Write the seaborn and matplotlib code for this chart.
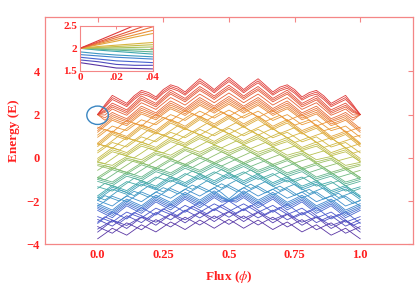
import numpy as np
import pandas as pd
import matplotlib
matplotlib.use('Agg')
import matplotlib.pyplot as plt
import seaborn as sns
from matplotlib.patches import Ellipse

# flux grid (values read every 1/36)
flux = [0.0, 0.028, 0.056, 0.083, 0.111, 0.139, 0.167, 0.194, 0.222, 0.25, 0.278, 0.306,
        0.333, 0.361, 0.389, 0.417, 0.444, 0.472, 0.5, 0.528, 0.556, 0.583, 0.611, 0.639,
        0.667, 0.694, 0.722, 0.75, 0.778, 0.806, 0.833, 0.861, 0.889, 0.917, 0.944, 0.972, 1.0]

# energy levels read along the flux grid
e00 = [-3.75, -3.51, -3.26, -3.42, -3.58, -3.34, -3.10, -3.26, -3.43, -3.20, -2.97, -3.14, -3.32, -3.10, -2.88, -3.07, -3.26, -3.05, -2.85, -3.05, -3.26, -3.07, -2.88, -3.10, -3.32, -3.14, -2.97, -3.20, -3.43, -3.26, -3.10, -3.34, -3.58, -3.42, -3.26, -3.51, -3.75]
e01 = [-3.18, -3.34, -3.49, -3.25, -3.01, -3.17, -3.33, -3.09, -2.86, -3.03, -3.20, -2.97, -2.75, -2.93, -3.11, -2.90, -2.69, -2.88, -3.08, -2.88, -2.69, -2.90, -3.11, -2.93, -2.75, -2.97, -3.20, -3.03, -2.86, -3.09, -3.33, -3.17, -3.01, -3.25, -3.49, -3.34, -3.18]
e02 = [-3.44, -3.18, -2.91, -3.09, -3.27, -3.01, -2.75, -2.93, -3.12, -2.87, -2.62, -2.81, -3.01, -2.77, -2.53, -2.74, -2.95, -2.72, -2.50, -2.72, -2.95, -2.74, -2.53, -2.77, -3.01, -2.81, -2.62, -2.87, -3.12, -2.93, -2.75, -3.01, -3.27, -3.09, -2.91, -3.18, -3.44]
f02 = [-3.30, -3.10, -2.89, -3.01, -3.13, -2.93, -2.73, -2.85, -2.98, -2.79, -2.60, -2.73, -2.87, -2.69, -2.51, -2.66, -2.81, -2.64, -2.48, -2.64, -2.81, -2.66, -2.51, -2.69, -2.87, -2.73, -2.60, -2.79, -2.98, -2.85, -2.73, -2.93, -3.13, -3.01, -2.89, -3.10, -3.30]
e03 = [-2.85, -3.01, -3.16, -2.92, -2.68, -2.84, -3.00, -2.76, -2.53, -2.70, -2.87, -2.64, -2.42, -2.60, -2.78, -2.57, -2.36, -2.55, -2.75, -2.55, -2.36, -2.57, -2.78, -2.60, -2.42, -2.64, -2.87, -2.70, -2.53, -2.76, -3.00, -2.84, -2.68, -2.92, -3.16, -3.01, -2.85]
e04 = [-2.98, -2.73, -2.88, -3.02, -2.77, -2.53, -2.68, -2.84, -2.59, -2.36, -2.52, -2.69, -2.46, -2.24, -2.42, -2.60, -2.39, -2.18, -2.38, -2.58, -2.39, -2.20, -2.42, -2.64, -2.46, -2.29, -2.52, -2.76, -2.59, -2.44, -2.68, -2.93, -2.77, -2.62, -2.88, -3.13, -2.98]
f04 = [-2.72, -2.85, -2.98, -2.74, -2.51, -2.65, -2.78, -2.56, -2.33, -2.48, -2.62, -2.41, -2.20, -2.36, -2.52, -2.32, -2.13, -2.30, -2.48, -2.30, -2.13, -2.32, -2.52, -2.36, -2.20, -2.41, -2.62, -2.48, -2.33, -2.56, -2.78, -2.65, -2.51, -2.74, -2.98, -2.85, -2.72]
e05 = [-3.04, -2.77, -2.50, -2.66, -2.83, -2.57, -2.30, -2.48, -2.65, -2.40, -2.14, -2.33, -2.52, -2.28, -2.04, -2.24, -2.45, -2.22, -2.00, -2.22, -2.45, -2.24, -2.04, -2.28, -2.52, -2.33, -2.14, -2.40, -2.65, -2.48, -2.30, -2.57, -2.83, -2.66, -2.50, -2.77, -3.04]
e06 = [-2.43, -2.60, -2.77, -2.49, -2.22, -2.40, -2.57, -2.31, -2.04, -2.23, -2.41, -2.16, -1.91, -2.11, -2.31, -2.07, -1.84, -2.05, -2.00, -2.05, -1.84, -2.07, -2.31, -2.11, -1.91, -2.16, -2.41, -2.23, -2.04, -2.31, -2.57, -2.40, -2.22, -2.49, -2.77, -2.60, -2.43]
f06 = [-2.35, -2.51, -2.67, -2.40, -2.14, -2.31, -2.47, -2.22, -1.96, -2.14, -2.31, -2.07, -1.83, -2.02, -2.21, -1.98, -1.76, -1.96, -1.99, -1.96, -1.76, -1.98, -2.21, -2.02, -1.83, -2.07, -2.31, -2.14, -1.96, -2.22, -2.47, -2.31, -2.14, -2.40, -2.67, -2.51, -2.35]
e07 = [-2.28, -2.43, -2.58, -2.32, -2.07, -2.23, -2.38, -2.14, -1.89, -2.06, -2.22, -1.99, -1.76, -1.94, -2.12, -1.90, -1.69, -1.88, -1.98, -1.88, -1.69, -1.90, -2.12, -1.94, -1.76, -1.99, -2.22, -2.06, -1.89, -2.14, -2.38, -2.23, -2.07, -2.32, -2.58, -2.43, -2.28]
f07 = [-2.20, -2.35, -2.50, -2.24, -1.99, -2.15, -2.30, -2.06, -1.81, -1.98, -2.14, -1.91, -1.68, -1.86, -2.04, -1.82, -1.61, -1.84, -1.97, -1.84, -1.61, -1.82, -2.04, -1.86, -1.68, -1.91, -2.14, -1.98, -1.81, -2.06, -2.30, -2.15, -1.99, -2.24, -2.50, -2.35, -2.20]
e08 = [-2.12, -2.27, -2.42, -2.16, -1.91, -2.07, -2.22, -1.98, -1.73, -1.90, -2.06, -1.83, -1.60, -1.78, -1.96, -1.74, -1.53, -1.78, -1.96, -1.78, -1.53, -1.74, -1.96, -1.78, -1.60, -1.83, -2.06, -1.90, -1.73, -1.98, -2.22, -2.07, -1.91, -2.16, -2.42, -2.27, -2.12]
e09 = [-1.97, -2.10, -2.23, -1.99, -1.76, -1.90, -2.03, -1.81, -1.58, -1.73, -1.87, -1.66, -1.45, -1.61, -1.77, -1.57, -1.38, -1.62, -1.90, -1.62, -1.38, -1.57, -1.77, -1.61, -1.45, -1.66, -1.87, -1.73, -1.58, -1.81, -2.03, -1.90, -1.76, -1.99, -2.23, -2.10, -1.97]
f09 = [-2.24, -2.01, -1.78, -1.90, -2.03, -1.81, -1.58, -1.72, -1.85, -1.64, -1.42, -1.57, -1.72, -1.52, -1.32, -1.48, -1.65, -1.46, -1.28, -1.46, -1.65, -1.48, -1.32, -1.52, -1.72, -1.57, -1.42, -1.64, -1.85, -1.72, -1.58, -1.81, -2.03, -1.90, -1.78, -2.01, -2.24]
e10 = [-1.98, -1.75, -1.88, -2.00, -1.77, -1.55, -1.68, -1.82, -1.59, -1.38, -1.52, -1.67, -1.46, -1.26, -1.42, -1.58, -1.39, -1.20, -1.38, -1.56, -1.39, -1.22, -1.42, -1.62, -1.46, -1.31, -1.52, -1.74, -1.59, -1.46, -1.68, -1.91, -1.77, -1.64, -1.88, -2.11, -1.98]
e11 = [-1.82, -1.95, -1.72, -1.48, -1.61, -1.75, -1.52, -1.30, -1.43, -1.58, -1.36, -1.15, -1.30, -1.46, -1.26, -1.06, -1.23, -1.40, -1.22, -1.04, -1.23, -1.42, -1.26, -1.10, -1.30, -1.51, -1.36, -1.22, -1.43, -1.66, -1.52, -1.39, -1.61, -1.84, -1.72, -1.59, -1.82]
e12 = [-1.93, -1.69, -1.45, -1.57, -1.69, -1.45, -1.22, -1.35, -1.48, -1.25, -1.03, -1.18, -1.32, -1.12, -0.91, -1.07, -1.24, -1.05, -0.87, -1.05, -1.24, -1.07, -0.91, -1.12, -1.32, -1.18, -1.03, -1.25, -1.48, -1.35, -1.22, -1.45, -1.69, -1.57, -1.45, -1.69, -1.93]
f12 = [-1.84, -1.60, -1.36, -1.48, -1.60, -1.36, -1.13, -1.26, -1.39, -1.16, -0.94, -1.09, -1.23, -1.03, -0.82, -0.98, -1.15, -0.96, -0.78, -0.96, -1.15, -0.98, -0.82, -1.03, -1.23, -1.09, -0.94, -1.16, -1.39, -1.26, -1.13, -1.36, -1.60, -1.48, -1.36, -1.60, -1.84]
e13 = [-1.76, -1.52, -1.28, -1.40, -1.52, -1.28, -1.05, -1.18, -1.31, -1.08, -0.86, -1.01, -1.15, -0.95, -0.74, -0.90, -1.07, -0.88, -0.70, -0.88, -1.07, -0.90, -0.74, -0.95, -1.15, -1.01, -0.86, -1.08, -1.31, -1.18, -1.05, -1.28, -1.52, -1.40, -1.28, -1.52, -1.76]
f13 = [-1.34, -1.44, -1.54, -1.32, -1.10, -1.20, -1.31, -1.10, -0.89, -1.00, -1.12, -0.93, -0.73, -0.87, -1.00, -0.82, -0.65, -0.80, -0.96, -0.80, -0.65, -0.82, -1.00, -0.87, -0.73, -0.93, -1.12, -1.00, -0.89, -1.10, -1.31, -1.20, -1.10, -1.32, -1.54, -1.44, -1.34]
e14 = [-1.42, -1.18, -1.30, -1.42, -1.18, -0.94, -1.07, -1.20, -0.97, -0.74, -0.88, -1.03, -0.81, -0.61, -0.76, -0.92, -0.73, -0.54, -0.72, -0.90, -0.73, -0.56, -0.76, -0.97, -0.81, -0.67, -0.88, -1.10, -0.97, -0.84, -1.07, -1.30, -1.18, -1.06, -1.30, -1.54, -1.42]
e15 = [-1.09, -1.19, -1.29, -1.07, -0.85, -0.95, -1.06, -0.85, -0.64, -0.75, -0.87, -0.68, -0.48, -0.62, -0.75, -0.57, -0.40, -0.55, -0.71, -0.55, -0.40, -0.57, -0.75, -0.62, -0.48, -0.68, -0.87, -0.75, -0.64, -0.85, -1.06, -0.95, -0.85, -1.07, -1.29, -1.19, -1.09]
f15 = [-1.00, -1.10, -1.20, -0.98, -0.76, -0.86, -0.97, -0.76, -0.55, -0.66, -0.78, -0.59, -0.39, -0.53, -0.66, -0.48, -0.31, -0.46, -0.62, -0.46, -0.31, -0.48, -0.66, -0.53, -0.39, -0.59, -0.78, -0.66, -0.55, -0.76, -0.97, -0.86, -0.76, -0.98, -1.20, -1.10, -1.00]
e16 = [-0.92, -1.02, -1.12, -0.90, -0.68, -0.78, -0.89, -0.68, -0.47, -0.58, -0.70, -0.51, -0.31, -0.45, -0.58, -0.40, -0.23, -0.38, -0.54, -0.38, -0.23, -0.40, -0.58, -0.45, -0.31, -0.51, -0.70, -0.58, -0.47, -0.68, -0.89, -0.78, -0.68, -0.90, -1.12, -1.02, -0.92]
e17 = [-0.92, -1.02, -0.80, -0.58, -0.68, -0.78, -0.57, -0.36, -0.47, -0.58, -0.38, -0.19, -0.31, -0.45, -0.26, -0.08, -0.23, -0.38, -0.22, -0.06, -0.23, -0.40, -0.26, -0.13, -0.31, -0.51, -0.38, -0.26, -0.47, -0.68, -0.57, -0.46, -0.68, -0.90, -0.80, -0.70, -0.92]
f17 = [-0.99, -0.77, -0.55, -0.65, -0.75, -0.53, -0.32, -0.43, -0.54, -0.33, -0.13, -0.26, -0.38, -0.20, -0.01, -0.15, -0.30, -0.13, 0.03, -0.13, -0.30, -0.15, -0.01, -0.20, -0.38, -0.26, -0.13, -0.33, -0.54, -0.43, -0.32, -0.53, -0.75, -0.65, -0.55, -0.77, -0.99]
e18 = [-0.91, -0.69, -0.47, -0.57, -0.67, -0.45, -0.24, -0.35, -0.46, -0.25, -0.05, -0.18, -0.30, -0.12, 0.07, -0.07, -0.22, -0.05, 0.11, -0.05, -0.22, -0.07, 0.07, -0.12, -0.30, -0.18, -0.05, -0.25, -0.46, -0.35, -0.24, -0.45, -0.67, -0.57, -0.47, -0.69, -0.91]
e19 = [-0.58, -0.36, -0.46, -0.56, -0.34, -0.12, -0.23, -0.34, -0.13, 0.08, -0.04, -0.17, 0.03, 0.21, 0.08, -0.06, 0.11, 0.28, 0.12, -0.04, 0.11, 0.26, 0.08, -0.11, 0.03, 0.15, -0.04, -0.24, -0.13, -0.02, -0.23, -0.44, -0.34, -0.24, -0.46, -0.68, -0.58]
e20 = [-0.36, -0.45, -0.54, -0.31, -0.09, -0.18, -0.28, -0.06, 0.15, 0.05, -0.07, 0.14, 0.34, 0.21, 0.07, 0.25, 0.43, 0.28, 0.12, 0.28, 0.43, 0.25, 0.07, 0.21, 0.34, 0.14, -0.07, 0.05, 0.15, -0.06, -0.28, -0.18, -0.09, -0.31, -0.54, -0.45, -0.36]
f20 = [-0.29, -0.37, -0.45, -0.23, -0.02, -0.10, -0.19, 0.02, 0.22, 0.13, 0.02, 0.22, 0.41, 0.29, 0.16, 0.33, 0.50, 0.36, 0.21, 0.36, 0.50, 0.33, 0.16, 0.29, 0.41, 0.22, 0.02, 0.13, 0.22, 0.02, -0.19, -0.10, -0.02, -0.23, -0.45, -0.37, -0.29]
e21 = [-0.21, -0.28, -0.35, -0.14, 0.06, -0.01, -0.09, 0.11, 0.30, 0.22, 0.12, 0.31, 0.49, 0.38, 0.26, 0.42, 0.58, 0.45, 0.31, 0.45, 0.58, 0.42, 0.26, 0.38, 0.49, 0.31, 0.12, 0.22, 0.30, 0.11, -0.09, -0.01, 0.06, -0.14, -0.35, -0.28, -0.21]
e22 = [-0.18, -0.27, -0.04, 0.19, 0.09, 0.00, 0.22, 0.44, 0.33, 0.23, 0.43, 0.64, 0.52, 0.39, 0.57, 0.75, 0.61, 0.46, 0.62, 0.78, 0.61, 0.43, 0.57, 0.71, 0.52, 0.32, 0.43, 0.55, 0.33, 0.12, 0.22, 0.32, 0.09, -0.13, -0.04, 0.05, -0.18]
e23 = [-0.18, 0.05, 0.28, 0.19, 0.09, 0.32, 0.54, 0.44, 0.33, 0.55, 0.75, 0.64, 0.52, 0.71, 0.89, 0.75, 0.61, 0.78, 0.94, 0.78, 0.61, 0.75, 0.89, 0.71, 0.52, 0.64, 0.75, 0.55, 0.33, 0.44, 0.54, 0.32, 0.09, 0.19, 0.28, 0.05, -0.18]
f23 = [-0.11, 0.13, 0.37, 0.27, 0.16, 0.40, 0.63, 0.52, 0.40, 0.63, 0.84, 0.72, 0.59, 0.79, 0.98, 0.83, 0.68, 0.86, 1.03, 0.86, 0.68, 0.83, 0.98, 0.79, 0.59, 0.72, 0.84, 0.63, 0.40, 0.52, 0.63, 0.40, 0.16, 0.27, 0.37, 0.13, -0.11]
e24 = [-0.03, 0.22, 0.47, 0.36, 0.24, 0.49, 0.73, 0.61, 0.48, 0.72, 0.94, 0.81, 0.67, 0.88, 1.08, 0.92, 0.76, 0.95, 1.13, 0.95, 0.76, 0.92, 1.08, 0.88, 0.67, 0.81, 0.94, 0.72, 0.48, 0.61, 0.73, 0.49, 0.24, 0.36, 0.47, 0.22, -0.03]
e25 = [0.32, 0.57, 0.46, 0.35, 0.59, 0.84, 0.72, 0.60, 0.83, 1.07, 0.93, 0.80, 1.02, 1.23, 1.07, 0.91, 1.11, 1.30, 1.12, 0.94, 1.11, 1.27, 1.07, 0.87, 1.02, 1.16, 0.93, 0.71, 0.83, 0.96, 0.72, 0.48, 0.59, 0.71, 0.46, 0.21, 0.32]
f25 = [0.23, 0.47, 0.71, 0.61, 0.50, 0.74, 0.97, 0.86, 0.74, 0.97, 1.18, 1.06, 0.93, 1.13, 1.32, 1.17, 1.02, 1.20, 1.37, 1.20, 1.02, 1.17, 1.32, 1.13, 0.93, 1.06, 1.18, 0.97, 0.74, 0.86, 0.97, 0.74, 0.50, 0.61, 0.71, 0.47, 0.23]
e26 = [0.66, 0.55, 0.44, 0.69, 0.93, 0.82, 0.70, 0.94, 1.17, 1.05, 0.91, 1.14, 1.36, 1.21, 1.05, 1.25, 1.45, 1.28, 1.10, 1.28, 1.45, 1.25, 1.05, 1.21, 1.36, 1.14, 0.91, 1.05, 1.17, 0.94, 0.70, 0.82, 0.93, 0.69, 0.44, 0.55, 0.66]
e27 = [0.65, 0.54, 0.79, 1.04, 0.92, 0.81, 1.05, 1.29, 1.16, 1.04, 1.26, 1.49, 1.35, 1.20, 1.40, 1.60, 1.44, 1.27, 1.45, 1.63, 1.44, 1.24, 1.40, 1.56, 1.35, 1.13, 1.26, 1.40, 1.16, 0.93, 1.05, 1.17, 0.92, 0.68, 0.79, 0.90, 0.65]
e28 = [0.52, 0.80, 1.08, 0.95, 0.83, 1.10, 1.37, 1.24, 1.10, 1.36, 1.61, 1.46, 1.30, 1.54, 1.77, 1.59, 1.41, 1.62, 1.82, 1.62, 1.41, 1.59, 1.77, 1.54, 1.30, 1.46, 1.61, 1.36, 1.10, 1.24, 1.37, 1.10, 0.83, 0.95, 1.08, 0.80, 0.52]
f28 = [0.60, 0.88, 1.16, 1.03, 0.91, 1.18, 1.45, 1.32, 1.18, 1.44, 1.69, 1.54, 1.38, 1.62, 1.85, 1.67, 1.49, 1.70, 1.90, 1.70, 1.49, 1.67, 1.85, 1.62, 1.38, 1.54, 1.69, 1.44, 1.18, 1.32, 1.45, 1.18, 0.91, 1.03, 1.16, 0.88, 0.60]
e29 = [0.68, 0.96, 1.24, 1.11, 0.99, 1.26, 1.53, 1.40, 1.26, 1.52, 1.77, 1.62, 1.46, 1.70, 1.93, 1.75, 1.57, 1.78, 1.98, 1.78, 1.57, 1.75, 1.93, 1.70, 1.46, 1.62, 1.77, 1.52, 1.26, 1.40, 1.53, 1.26, 0.99, 1.11, 1.24, 0.96, 0.68]
e30 = [1.05, 1.31, 1.21, 1.10, 1.36, 1.61, 1.50, 1.39, 1.63, 1.87, 1.74, 1.61, 1.83, 2.05, 1.90, 1.74, 1.94, 2.13, 1.95, 1.77, 1.94, 2.10, 1.90, 1.69, 1.83, 1.97, 1.74, 1.51, 1.63, 1.75, 1.50, 1.25, 1.36, 1.46, 1.21, 0.95, 1.05]
f30 = [0.95, 1.21, 1.47, 1.36, 1.26, 1.51, 1.76, 1.65, 1.53, 1.77, 2.00, 1.87, 1.73, 1.95, 2.16, 2.00, 1.84, 2.03, 2.21, 2.03, 1.84, 2.00, 2.16, 1.95, 1.73, 1.87, 2.00, 1.77, 1.53, 1.65, 1.76, 1.51, 1.26, 1.36, 1.47, 1.21, 0.95]
e31 = [1.42, 1.30, 1.18, 1.45, 1.73, 1.60, 1.47, 1.74, 2.00, 1.86, 1.71, 1.96, 2.20, 2.04, 1.87, 2.09, 2.31, 2.12, 1.92, 2.12, 2.31, 2.09, 1.87, 2.04, 2.20, 1.96, 1.71, 1.86, 2.00, 1.74, 1.47, 1.60, 1.73, 1.45, 1.18, 1.30, 1.42]
e32 = [1.18, 1.46, 1.74, 1.61, 1.49, 1.76, 2.03, 1.90, 1.76, 2.02, 2.27, 2.12, 1.96, 2.20, 2.43, 2.25, 2.07, 2.28, 2.48, 2.28, 2.07, 2.25, 2.43, 2.20, 1.96, 2.12, 2.27, 2.02, 1.76, 1.90, 2.03, 1.76, 1.49, 1.61, 1.74, 1.46, 1.18]
f32 = [1.26, 1.54, 1.82, 1.69, 1.57, 1.84, 2.11, 1.98, 1.84, 2.10, 2.35, 2.20, 2.04, 2.28, 2.51, 2.33, 2.15, 2.36, 2.56, 2.36, 2.15, 2.33, 2.51, 2.28, 2.04, 2.20, 2.35, 2.10, 1.84, 1.98, 2.11, 1.84, 1.57, 1.69, 1.82, 1.54, 1.26]
e33 = [1.35, 1.63, 1.91, 1.78, 1.66, 1.93, 2.20, 2.07, 1.93, 2.19, 2.44, 2.29, 2.13, 2.37, 2.60, 2.42, 2.24, 2.45, 2.65, 2.45, 2.24, 2.42, 2.60, 2.37, 2.13, 2.29, 2.44, 2.19, 1.93, 2.07, 2.20, 1.93, 1.66, 1.78, 1.91, 1.63, 1.35]
f33 = [2.00, 1.74, 2.00, 1.86, 1.73, 2.01, 2.29, 2.15, 2.00, 2.27, 2.53, 2.37, 2.20, 2.45, 2.69, 2.50, 2.31, 2.53, 2.74, 2.53, 2.31, 2.50, 2.69, 2.45, 2.20, 2.37, 2.53, 2.27, 2.00, 2.15, 2.29, 2.01, 1.73, 1.86, 2.00, 1.74, 2.00]
e34 = [2.00, 1.85, 2.10, 1.95, 1.81, 2.10, 2.39, 2.24, 2.08, 2.36, 2.63, 2.46, 2.28, 2.54, 2.79, 2.59, 2.39, 2.62, 2.84, 2.62, 2.39, 2.59, 2.79, 2.54, 2.28, 2.46, 2.63, 2.36, 2.08, 2.24, 2.39, 2.10, 1.81, 1.95, 2.10, 1.85, 2.00]
e35 = [2.00, 1.98, 2.26, 2.11, 1.97, 2.26, 2.55, 2.40, 2.24, 2.52, 2.79, 2.62, 2.44, 2.70, 2.95, 2.75, 2.55, 2.78, 3.00, 2.78, 2.55, 2.75, 2.95, 2.70, 2.44, 2.62, 2.79, 2.52, 2.24, 2.40, 2.55, 2.26, 1.97, 2.11, 2.26, 1.98, 2.00]
e36 = [2.00, 2.10, 2.35, 2.21, 2.06, 2.37, 2.68, 2.52, 2.36, 2.66, 2.95, 2.77, 2.59, 2.86, 3.12, 2.92, 2.70, 2.95, 3.18, 2.95, 2.70, 2.92, 3.12, 2.86, 2.59, 2.77, 2.95, 2.66, 2.36, 2.52, 2.68, 2.37, 2.06, 2.21, 2.35, 2.10, 2.00]
f36 = [2.00, 2.16, 2.43, 2.29, 2.14, 2.45, 2.76, 2.60, 2.44, 2.74, 3.03, 2.85, 2.67, 2.94, 3.20, 3.00, 2.78, 3.03, 3.26, 3.03, 2.78, 3.00, 3.20, 2.94, 2.67, 2.85, 3.03, 2.74, 2.44, 2.60, 2.76, 2.45, 2.14, 2.29, 2.43, 2.16, 2.00]
e37 = [2.00, 2.22, 2.53, 2.38, 2.22, 2.54, 2.86, 2.69, 2.52, 2.83, 3.13, 2.94, 2.75, 3.03, 3.30, 3.09, 2.86, 3.12, 3.36, 3.12, 2.86, 3.09, 3.30, 3.03, 2.75, 2.94, 3.13, 2.83, 2.52, 2.69, 2.86, 2.54, 2.22, 2.38, 2.53, 2.22, 2.00]
e38 = [2.00, 2.34, 2.70, 2.54, 2.37, 2.70, 2.95, 2.85, 2.67, 2.99, 3.22, 3.10, 2.90, 3.19, 3.47, 3.25, 3.01, 3.28, 3.53, 3.28, 3.01, 3.25, 3.47, 3.19, 2.90, 3.10, 3.22, 2.99, 2.67, 2.85, 2.95, 2.70, 2.37, 2.54, 2.70, 2.34, 2.00]
f38 = [2.00, 2.40, 2.79, 2.62, 2.44, 2.78, 3.04, 2.93, 2.74, 3.07, 3.30, 3.18, 2.97, 3.27, 3.56, 3.33, 3.08, 3.36, 3.62, 3.36, 3.08, 3.33, 3.56, 3.27, 2.97, 3.18, 3.30, 3.07, 2.74, 2.93, 3.04, 2.78, 2.44, 2.62, 2.79, 2.40, 2.00]
e39 = [2.00, 2.46, 2.89, 2.71, 2.52, 2.87, 3.12, 3.02, 2.82, 3.16, 3.38, 3.27, 3.05, 3.36, 3.66, 3.42, 3.16, 3.45, 3.72, 3.45, 3.16, 3.42, 3.66, 3.36, 3.05, 3.27, 3.38, 3.16, 2.82, 3.02, 3.12, 2.87, 2.52, 2.71, 2.89, 2.46, 2.00]

# inset: zoom of the degenerate point at flux 0, E = 2
inset_flux = [0.0, 0.01, 0.02, 0.03, 0.04]
i01 = [1.68, 1.62, 1.56, 1.55, 1.54]
i02 = [1.74, 1.70, 1.64, 1.62, 1.62]
i03 = [1.80, 1.76, 1.72, 1.70, 1.68]
i04 = [1.86, 1.83, 1.80, 1.78, 1.76]
i05 = [1.92, 1.88, 1.85, 1.83, 1.81]
i06 = [2.00, 1.96, 1.93, 1.90, 1.87]
i07 = [2.00, 1.98, 1.96, 1.94, 1.92]
i08 = [2.00, 1.99, 1.98, 1.98, 1.97]
i09 = [2.00, 2.01, 2.01, 2.02, 2.03]
i10 = [2.00, 2.02, 2.04, 2.06, 2.08]
i11 = [2.00, 2.04, 2.07, 2.10, 2.13]
i12 = [2.00, 2.08, 2.16, 2.25, 2.33]
i13 = [2.00, 2.10, 2.20, 2.30, 2.40]
i14 = [2.00, 2.12, 2.24, 2.36, 2.48]
i15 = [2.00, 2.14, 2.28, 2.42, 2.56]
i16 = [2.00, 2.17, 2.34, 2.51, 2.68]

# bottom band first
bands = [e00, e01, e02, f02, e03, e04, f04, e05, e06, f06, e07, f07, e08, e09, f09,
         e10, e11, e12, f12, e13, f13, e14, e15, f15, e16, e17, f17, e18, e19, e20,
         f20, e21, e22, e23, f23, e24, e25, f25, e26, e27, e28, f28, e29, e30, f30,
         e31, e32, f32, e33, f33, e34, e35, e36, f36, e37, e38, f38, e39]
inset_bands = [i01, i02, i03, i04, i05, i06, i07, i08, i09, i10, i11, i12, i13, i14, i15, i16]

def long_form(xs, series):
    rows = []
    for k, s in enumerate(series):
        for x, y in zip(xs, s):
            rows.append((x, y, 'b%02d' % k))
    return pd.DataFrame(rows, columns=['flux', 'energy', 'band'])

spectrum = ['#5a36a4', '#4a5ad0', '#3f8ed0', '#3fa8b0', '#72bb80', '#b6c250',
            '#d8b640', '#eb9a38', '#e8683a', '#e03a3a']

sns.set_style('white')
plt.rcParams['font.family'] = ['Liberation Serif', 'DejaVu Serif']
plt.rcParams['mathtext.fontset'] = 'stix'
red = '#ff2020'
frame = '#f48686'

fig = plt.figure(figsize=(4.17, 2.85), dpi=100)
ax = fig.add_axes([0.108, 0.143, 0.882, 0.796])

df = long_form(flux, bands)
sns.lineplot(data=df, x='flux', y='energy', hue='band',
             palette=sns.blend_palette(spectrum, n_colors=len(bands)),
             legend=False, lw=0.6, estimator=None, ax=ax)

ax.add_patch(Ellipse((0.0, 1.97), 0.082, 0.85, fill=False, ec='#3a86c2', lw=1.0, zorder=5))

ax.set_xlim(-0.2, 1.2)
ax.set_ylim(-4, 6.5)
ax.set_xticks([0, 0.25, 0.5, 0.75, 1.0])
ax.set_xticklabels(['0.0', '0.25', '0.5', '0.75', '1.0'])
ax.set_yticks([-4, -2, 0, 2, 4])
ax.tick_params(direction='in', top=True, right=True, length=3.5, width=0.8,
               color=frame, labelcolor=red, labelsize=9)
for lbl in ax.get_xticklabels() + ax.get_yticklabels():
    lbl.set_fontweight('bold')
for sp in ax.spines.values():
    sp.set_color(frame)
    sp.set_linewidth(0.9)
ax.set_xlabel(r'Flux ($\phi$)', color=red, fontsize=9.5, fontweight='bold', labelpad=6)
ax.set_ylabel('Energy (E)', color=red, fontsize=9.5, fontweight='bold', labelpad=5)

# inset
axin = fig.add_axes([0.192, 0.752, 0.174, 0.157])
dfi = long_form(inset_flux, inset_bands)
sns.lineplot(data=dfi, x='flux', y='energy', hue='band',
             palette=sns.blend_palette(spectrum, n_colors=len(inset_bands)),
             legend=False, lw=0.8, estimator=None, ax=axin)
axin.set_xlim(0, 0.04)
axin.set_ylim(1.5, 2.5)
axin.set_xticks([0, 0.02, 0.04])
axin.set_xticklabels(['0', '.02', '.04'])
axin.set_yticks([1.5, 2, 2.5])
axin.set_yticklabels(['1.5', '2', '2.5'])
axin.set_xlabel('')
axin.set_ylabel('')
axin.tick_params(direction='in', top=True, right=True, length=2.5, width=0.7,
                 color=frame, labelcolor=red, labelsize=8, pad=2)
for lbl in axin.get_xticklabels() + axin.get_yticklabels():
    lbl.set_fontweight('bold')
for sp in axin.spines.values():
    sp.set_color(frame)
    sp.set_linewidth(0.8)

fig.savefig('out.png', dpi=100)
